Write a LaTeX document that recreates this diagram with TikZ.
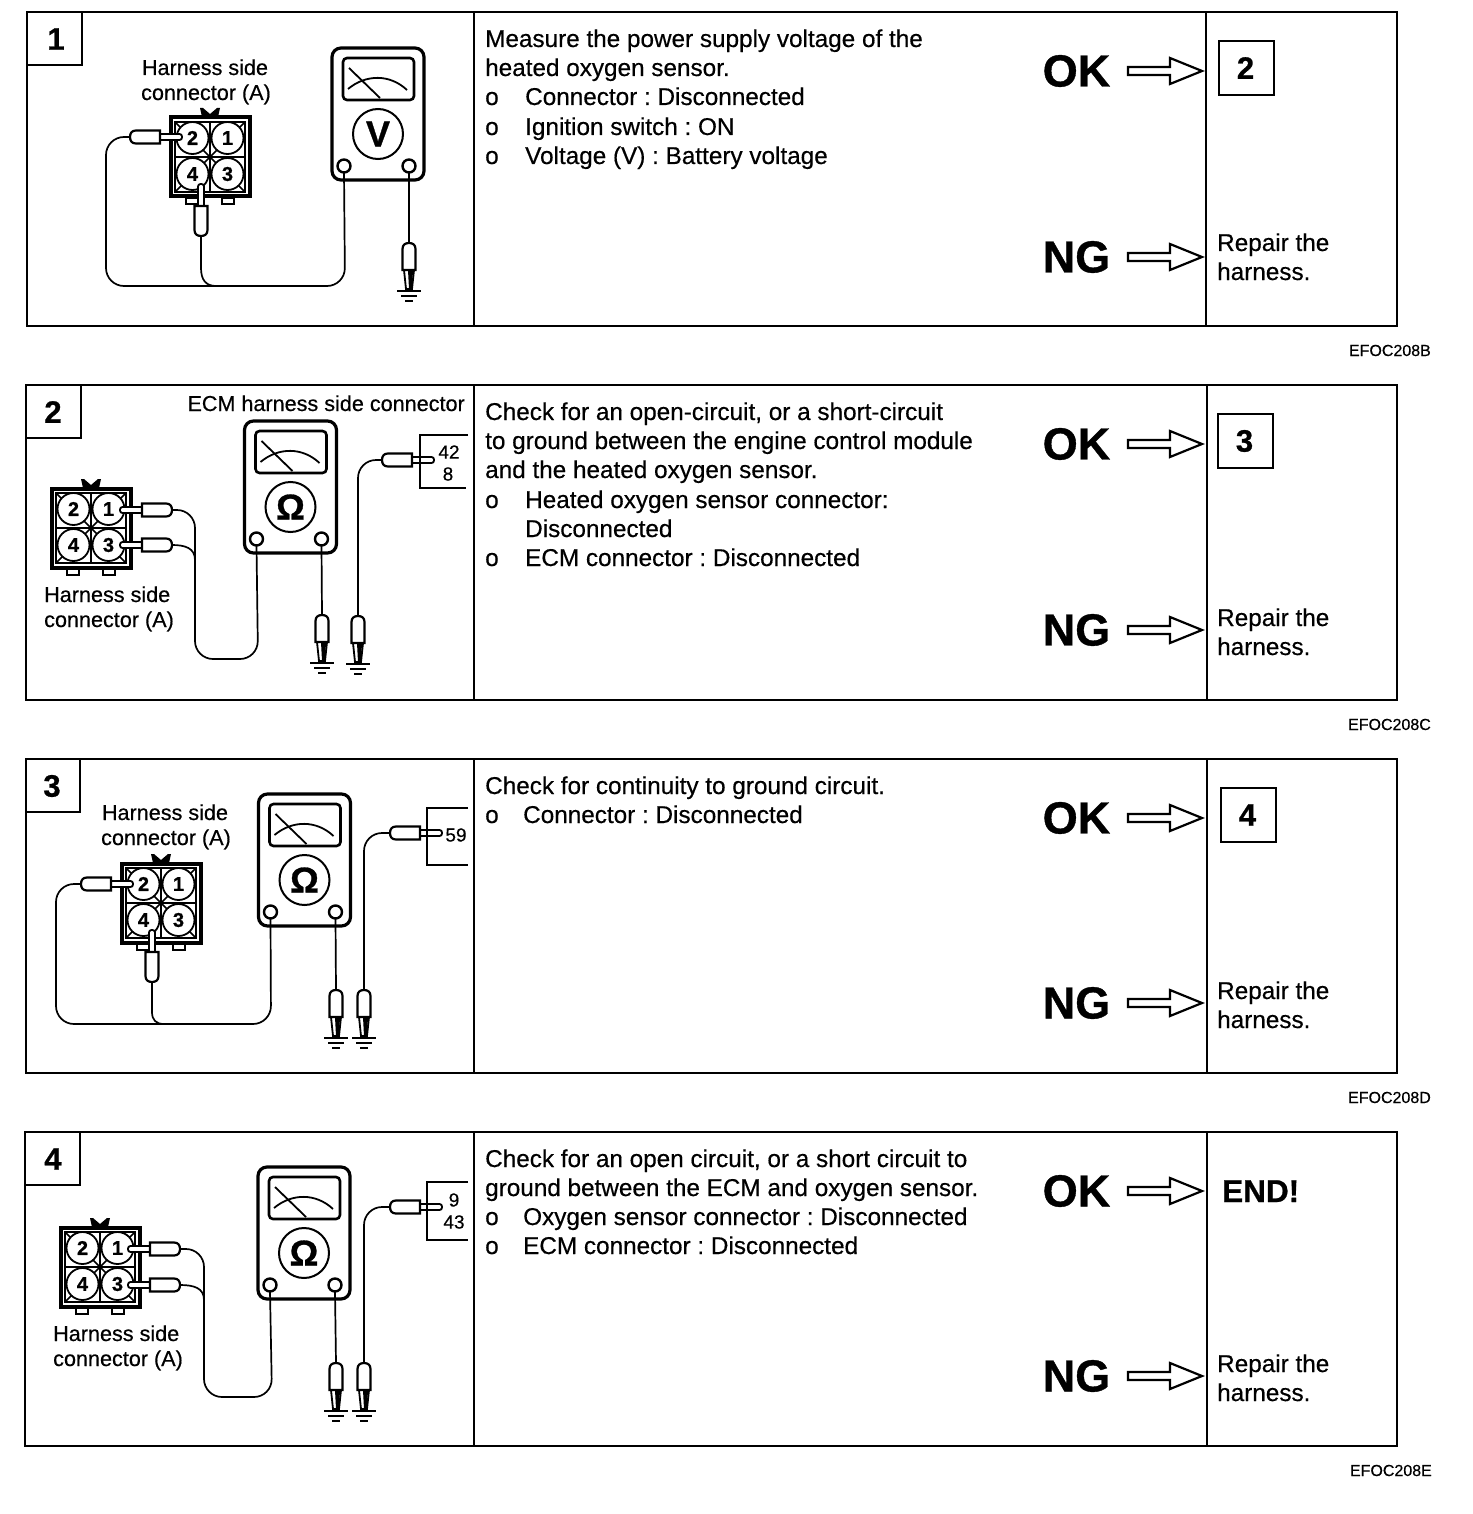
\documentclass[tikz,border=0pt]{standalone}
\usepackage{fontspec}
\setmainfont{Liberation Sans}
\newfontfamily\heavy[FakeBold=0.45]{Liberation Sans}
\newfontfamily\blk[BoldFeatures={FakeBold=0.8}]{Liberation Sans}
\usetikzlibrary{calc}
\newcommand{\fs}[1]{\fontsize{#1}{#1}\selectfont}
\frenchspacing
\tikzset{x=1pt,y=-1pt,
  frame/.style={line width=2.4pt},
  thinline/.style={line width=1.6pt},
  wire/.style={line width=1.7pt,rounded corners=18pt},
  body/.style={inner sep=0pt,anchor=base west,font=\fs{24.3}\heavy},
  mid/.style={inner sep=0pt,anchor=base,font=\fs{21.6}\heavy},
  midl/.style={inner sep=0pt,anchor=base west,font=\fs{21.6}\heavy},
  verdict/.style={inner sep=0pt,font=\fs{45}\blk\bfseries},
  stepnum/.style={inner sep=0pt,font=\fs{31}\blk\bfseries},
  code/.style={inner sep=0pt,anchor=base east,font=\fs{16}\heavy},
  pinnum/.style={inner sep=0pt,font=\fs{19}\heavy},
  result/.style={draw,line width=2pt,minimum width=55pt,minimum height=54pt,inner sep=0pt,font=\fs{31}\blk\bfseries},
  pics/hollow/.style={code={
    \draw[line width=2.2pt,fill=white,line join=miter] (0,-4)--(42,-4)--(42,-13)--(74,0)--(42,13)--(42,4)--(0,4)--cycle;
    \coordinate (-tip) at (74,0);}},
  pics/meter/.style={code={
    \draw[line width=3.2pt,fill=white,rounded corners=9pt] (-46,-66) rectangle (46,66);
    \draw[line width=2.6pt,rounded corners=4pt] (-35,-56) rectangle (36,-14);
    \draw[line width=1.8pt] (-29,-46)--(2,-16);
    \draw[line width=1.8pt] (-30,-25) .. controls (-12,-40) and (12,-40) .. (29,-24);
    \draw[line width=2pt] (0,20) circle (25);
    \node[inner sep=0pt,font=\fs{36}\blk\bfseries] (-sym) at (0,20) {#1};
    \draw[line width=2.4pt,fill=white] (-34,52) circle (6.5);
    \draw[line width=2.4pt,fill=white] (31,52) circle (6.5);
    \coordinate (-a) at (-34,58.5);
    \coordinate (-b) at (31,58.5);}},
  pics/conn/.style={code={
    \fill (-10,-49)--(-7,-49)--(0,-43)--(7,-49)--(10,-49)--(8,-40)--(-8,-40)--cycle;
    \draw[line width=2pt,fill=white] (-24,41) rectangle (-12,47);
    \draw[line width=2pt,fill=white] (12,41) rectangle (24,47);
    \draw[line width=4pt,fill=white] (-39.5,-39.5) rectangle (39.5,39.5);
    \draw[line width=1.6pt] (-35,-35) rectangle (35,35);
    \draw[line width=1.6pt] (0,-35)--(0,35) (-35,0)--(35,0);
    \draw[line width=1.6pt] (-35,-35)--(35,35) (-35,35)--(35,-35);
    \foreach \cx/\cy/\n in {-17.5/-19/2,17.5/-19/1,-17.5/17/4,17.5/17/3}{
      \draw[line width=1.8pt,fill=white] (\cx,\cy) circle (16);
      \node[pinnum,font=\fs{20}\blk\bfseries] at (\cx,\cy) {\n};}
  }},
  pics/probe/.style={code={
    \draw[line width=1.8pt,fill=white,rounded corners=2.5pt] (28,-3)--(52,-3)--(52,3)--(28,3);
    \draw[line width=2.2pt,fill=white] (0,0) .. controls (0,-4) and (2,-6.5) .. (6,-6.5) -- (30,-6.5) -- (30,6.5) -- (6,6.5) .. controls (2,6.5) and (0,4) .. (0,0) -- cycle;
    \coordinate (-w) at (0,0);}},
  pics/gprobe/.style={code={
    \coordinate (-w) at (0,0);
    \draw[line width=1.8pt,fill=white] (-5,27)--(-3,46)--(3,46)--(5,27)--cycle;
    \fill (-1,27)--(0,46)--(3,46)--(4,27)--cycle;
    \draw[line width=2.2pt,fill=white] (0,0) .. controls (-4,0) and (-6.5,2) .. (-6.5,6) -- (-6.5,27) -- (6.5,27) -- (6.5,6) .. controls (6.5,2) and (4,0) .. (0,0) -- cycle;
    \draw[line width=1.8pt] (-12,48)--(12,48) (-8,53)--(8,53) (-4,58)--(4,58);}},
}
\begin{document}
\begin{tikzpicture}
\useasboundingbox (0,0) rectangle (1472,1514);
\fill[white] (0,0) rectangle (1472,1514);

%% ---------- frames
\draw[frame] (27,12) rectangle (1397,326) (474,12)--(474,326) (1206,12)--(1206,326);
\draw[frame] (27,65)--(82,65)--(82,12);
\draw[frame] (26,385) rectangle (1397,700) (474,385)--(474,700) (1207,385)--(1207,700);
\draw[frame] (26,438)--(81,438)--(81,385);
\draw[frame] (26,759) rectangle (1397,1073) (474,759)--(474,1073) (1207,759)--(1207,1073);
\draw[frame] (26,812)--(80,812)--(80,759);
\draw[frame] (25,1132) rectangle (1397,1446) (474,1132)--(474,1446) (1207,1132)--(1207,1446);
\draw[frame] (25,1185)--(80,1185)--(80,1132);

\node[stepnum] (n1) at (56,39) {1};
\node[stepnum] (n2) at (53,412) {2};
\node[stepnum] (n3) at (52,786) {3};
\node[stepnum] (n4) at (53,1159) {4};

%% ---------- panel 1 diagram
\node[mid] (h1a) at (205,75) {Harness side};
\node[mid] (h1b) at (206,100) {connector (A)};
\pic (c1) at (210,157) {conn};
\pic (m1) at (378,114) {meter={V}};
\pic (p1a) at (130,137) {probe};
\pic[rotate=90] (p1b) at (201,236) {probe};
\pic (g1) at (409,243) {gprobe};
\draw[wire] (p1a-w) -- (106,137) -- (106,286) -- (345,286) -- (m1-a);
\draw[line width=1.7pt] (p1b-w) -- (201,268) .. controls (201,280) and (206,286) .. (216,286);
\draw[line width=1.7pt] (m1-b) -- (g1-w);

%% ---------- panel 2 diagram
\node[inner sep=0pt,anchor=base east,font=\fs{21.6}\heavy] (e2) at (465,411) {ECM harness side connector};
\node[midl] (h2a) at (44,602) {Harness side};
\node[midl] (h2b) at (44,627) {connector (A)};
\pic (c2) at (91,528) {conn};
\pic (m2) at (290.5,487) {meter={Ω}};
\pic[rotate=180] (p2a) at (172,510) {probe};
\pic[rotate=180] (p2b) at (172,545) {probe};
\pic (p2c) at (382,460) {probe};
\pic (g2a) at (322,615) {gprobe};
\pic (g2b) at (358,616) {gprobe};
\draw[wire] (p2a-w) -- (195,510) -- (195,659) -- (258,659) -- (m2-a);
\draw[line width=1.7pt] (p2b-w) .. controls (185,545) and (195,548) .. (195,560);
\draw[line width=1.7pt] (m2-b) -- (g2a-w);
\draw[wire] (p2c-w) -- (358,460) -- (g2b-w);
\draw[thinline] (468,435)--(420,435)--(420,488)--(466,488);
\node[pinnum] (e2a) at (449,452) {42};
\node[pinnum] (e2b) at (448,474) {8};

%% ---------- panel 3 diagram
\node[mid] (h3a) at (165,820) {Harness side};
\node[mid] (h3b) at (166,845) {connector (A)};
\pic (c3) at (161,903) {conn};
\pic (m3) at (304.5,860) {meter={Ω}};
\pic (p3a) at (81,884) {probe};
\pic[rotate=90] (p3b) at (152,982) {probe};
\pic (p3c) at (390,833) {probe};
\pic (g3a) at (336,990) {gprobe};
\pic (g3b) at (364,990) {gprobe};
\draw[wire] (p3a-w) -- (56,884) -- (56,1024) -- (271,1024) -- (m3-a);
\draw[line width=1.7pt] (p3b-w) -- (152,1012) .. controls (152,1020) and (156,1024) .. (164,1024);
\draw[line width=1.7pt] (m3-b) -- (g3a-w);
\draw[wire] (p3c-w) -- (364,833) -- (g3b-w);
\draw[thinline] (468,808)--(427,808)--(427,865)--(468,865);
\node[pinnum] (e3a) at (456,835) {59};

%% ---------- panel 4 diagram
\node[midl] (h4a) at (53,1341) {Harness side};
\node[midl] (h4b) at (53,1366) {connector (A)};
\pic (c4) at (100,1267) {conn};
\pic (m4) at (304,1233) {meter={Ω}};
\pic[rotate=180] (p4a) at (180,1249) {probe};
\pic[rotate=180] (p4b) at (180,1285) {probe};
\pic (p4c) at (390,1207) {probe};
\pic (g4a) at (336,1363) {gprobe};
\pic (g4b) at (364,1363) {gprobe};
\draw[wire] (p4a-w) -- (204,1249) -- (204,1397) -- (272,1397) -- (m4-a);
\draw[line width=1.7pt] (p4b-w) .. controls (194,1285) and (204,1288) .. (204,1300);
\draw[line width=1.7pt] (m4-b) -- (g4a-w);
\draw[wire] (p4c-w) -- (364,1207) -- (g4b-w);
\draw[thinline] (468,1182)--(427,1182)--(427,1240)--(468,1240);
\node[pinnum] (e4a) at (454,1200) {9};
\node[pinnum] (e4b) at (454,1222) {43};

%% ---------- instructions
\node[body] (t1a) at (485,47) {Measure the power supply voltage of the};
\node[body] (t1b) at (485,76) {heated oxygen sensor.};
\node[body] (t1co) at (485,105) {o};\node[body] (t1c) at (525,105) {Connector : Disconnected};
\node[body] (t1do) at (485,135) {o};\node[body] (t1d) at (525,135) {Ignition switch : ON};
\node[body] (t1eo) at (485,164) {o};\node[body] (t1e) at (525,164) {Voltage (V) : Battery voltage};

\node[body] (t2a) at (485,420) {Check for an open-circuit, or a short-circuit};
\node[body] (t2b) at (485,449) {to ground between the engine control module};
\node[body] (t2c) at (485,478) {and the heated oxygen sensor.};
\node[body] (t2do) at (485,508) {o};\node[body] (t2d) at (525,508) {Heated oxygen sensor connector:};
\node[body] (t2e) at (525,537) {Disconnected};
\node[body] (t2fo) at (485,566) {o};\node[body] (t2f) at (525,566) {ECM connector : Disconnected};

\node[body] (t3a) at (485,794) {Check for continuity to ground circuit.};
\node[body] (t3bo) at (485,823) {o};\node[body] (t3b) at (523,823) {Connector : Disconnected};

\node[body] (t4a) at (485,1167) {Check for an open circuit, or a short circuit to};
\node[body] (t4b) at (485,1196) {ground between the ECM and oxygen sensor.};
\node[body] (t4co) at (485,1225) {o};\node[body] (t4c) at (523,1225) {Oxygen sensor connector : Disconnected};
\node[body] (t4do) at (485,1254) {o};\node[body] (t4d) at (523,1254) {ECM connector : Disconnected};

%% ---------- verdicts
\foreach \i/\a/\b in {1/71/257,2/444/630,3/818/1003,4/1191/1376}{
  \node[verdict] (ok\i) at (1076.5,\a) {OK};
  \node[verdict] (ng\i) at (1076.5,\b) {NG};
  \pic (ar\i a) at (1128,\a) {hollow};
  \pic (ar\i b) at (1128,\b) {hollow};
}

%% ---------- outcomes
\node[result] (r1) at (1246.5,68) {\kern-2pt 2};
\node[result] (r2) at (1245.5,441) {\kern-2pt 3};
\node[result] (r3) at (1248.5,815) {\kern-2pt 4};
\node[inner sep=0pt,anchor=base west,font=\fs{31.5}\blk\bfseries] (r4) at (1222,1202) {END!};

\node[body] (f1a) at (1217,251) {Repair the};
\node[body] (f1b) at (1217,280) {harness.};
\node[body] (f2a) at (1217,626) {Repair the};
\node[body] (f2b) at (1217,655) {harness.};
\node[body] (f3a) at (1217,999) {Repair the};
\node[body] (f3b) at (1217,1028) {harness.};
\node[body] (f4a) at (1217,1372) {Repair the};
\node[body] (f4b) at (1217,1401) {harness.};

\node[code] (k1) at (1431,356) {EFOC208B};
\node[code] (k2) at (1431,730) {EFOC208C};
\node[code] (k3) at (1431,1103) {EFOC208D};
\node[code] (k4) at (1432,1476) {EFOC208E};
\end{tikzpicture}
\end{document}
